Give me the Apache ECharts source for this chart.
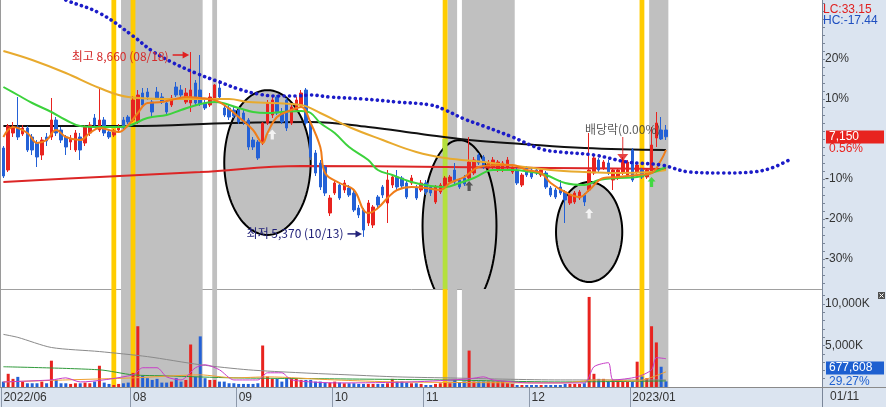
<!DOCTYPE html>
<html><head><meta charset="utf-8">
<script src="https://cdn.jsdelivr.net/npm/echarts@6.0.0/dist/echarts.min.js"></script>
<style>html,body{margin:0;padding:0;}#chart{width:886px;height:407px;}</style>
</head><body><div id="chart"></div>
<script>
// ---------- categories: trading days ----------
const days2022_06 = [23,24,27,28,29,30];
const days2022_07 = [1,4,5,6,7,8,11,12,13,14,15,18,19,20,21,22,25,26,27,28,29];
const days2022_08 = [1,2,3,4,5,8,9,10,11,12,16,17,18,19,22,23,24,25,26,29,30,31];
const days2022_09 = [1,2,5,6,7,8,13,14,15,16,19,20,21,22,23,26,27,28,29,30];
const days2022_10 = [4,5,6,7,11,12,13,14,17,18,19,20,21,24,25,26,27,28,31];
const days2022_11 = [1,2,3,4,7,8,9,10,11,14,15,16,17,18,21,22,23,24,25,28,29,30];
const days2022_12 = [1,2,5,6,7,8,9,12,13,14,15,16,19,20,21,22,23,26,27,28,29];
const days2023_01 = [2,3,4,5,6,9,10,11];
const monthList = [['2022/06',days2022_06],['2022/07',days2022_07],['2022/08',days2022_08],['2022/09',days2022_09],
  ['2022/10',days2022_10],['2022/11',days2022_11],['2022/12',days2022_12],['2023/01',days2023_01]];
const monthTickLabels = {'2022/06':'2022/06','2022/08':'08','2022/09':'09','2022/10':'10','2022/11':'11','2022/12':'12','2023/01':'2023/01'};
const futureSlots = 32;
const lastDateLabel = '01/11';

// ---------- price data, % vs previous close (7,110) ----------
const lastPrice = 7150, lastVolume = 677608, volumeRatioPct = 29.27;
const highLabel = '최고 8,660 (08/18)', lowLabel = '최저 5,370 (10/13)', exDivLabel = '배당락(0.00%)';
const lcText = 'LC:33.15', hcText = 'HC:-17.44';
const openPct = [-2.25,-7.75,1.5,3,1.25,2.75,0.5,-1,-4,0.5,
0.5,4.75,2.25,0.5,-0.75,-2.75,0.5,-1,1.5,5.25,
2.25,4.75,1.75,1,2.25,4.75,5.5,4.75,4.25,11.5,
11.75,9.25,11.75,10.5,9,8.5,13,12.25,9.25,9,
14,12.25,9,8.5,10.25,12.75,7.75,7.75,7.25,7.25,
6.5,4.75,-0.25,-0.75,-1,4,6,10.5,6.75,9.75,
4,7.25,8.5,12.25,4,-3.5,-6,-7,-18.5,-13.5,
-11.5,-12.75,-12.25,-13.5,-17.25,-17.75,-21,-21.5,-14.5,-12,
-16,-11.5,-9.5,-9.75,-11,-11,-12.25,-12.75,-11,-12,
-15.75,-13.25,-12,-10.75,-7.75,-10.25,-9.75,-9.75,-8.5,-4,
-4.5,-7.25,-7,-7.75,-7.75,-7,-8.25,-7.75,-11.5,-7.25,
-7.75,-7.75,-9,-8.5,-12.25,-12.75,-12,-13.25,-16,-15.75,
-14.75,-14,-12.75,-8.5,-5.25,-7.25,-6,-10.25,-9.75,-8.5,
-9,-2.75,-8.25,-7.75,-9.5,-8.25,0.25,2.25,2.25];
const closePct = [-9.25,3.25,3,0.5,2.75,-2.75,-2.75,-4.5,-0.25,-0.5,
4.75,1.5,-0.25,-2,0,1.5,-2.75,3,3.5,3.5,
4.75,1.5,0.5,2,3,2.75,4.25,9.75,11,8.5,
10.5,6.75,10.25,9.25,6.75,10.25,11,11,11.5,12.25,
9,8.75,7.75,10.5,13.5,10.5,6,5.5,5.75,4.25,
4.25,-2,-2,-4.75,4,9,9.75,6.5,4.25,2.75,
8,9.75,11.5,4,-4.5,-8.5,-12,-13.5,-14.75,-11,
-14.75,-11,-14,-17.75,-19,-22.75,-16,-17,-16.5,-14,
-10.25,-9.5,-12,-11.75,-14.5,-9.75,-14.75,-11,-13.25,-13.5,
-12,-11.5,-9.75,-9.5,-10.75,-12,-11.25,-5.75,-5.25,-6,
-7,-6,-5.25,-5.75,-6,-5.25,-7,-11,-9,-9,
-9.5,-8.5,-7.75,-12,-14,-14.5,-13.5,-15.25,-14,-13.5,
-13.25,-15.75,-7.75,-4.75,-7.75,-5.75,-8.5,-7.75,-7.75,-5.25,
-5.75,-10.25,-6.5,-9.5,-7.75,-1.5,4,0,0.56];
const lowPct = [-9.75,-8.25,0.5,-0.25,0.75,-3.25,-4,-7,-5.25,-1.75,
-0.25,0.75,-1,-4,-2.75,-3.25,-5.25,-1.75,0.75,2.75,
1.75,0.75,0,0.5,1.75,2.25,3.75,4.25,3.75,8,
9.75,5.5,9.75,8.75,6.25,8,10.5,10.25,8.75,6.75,
8.5,8.25,7.25,8,9.75,9.75,5.5,4.75,5.25,3.75,
3.5,-2.75,-2.75,-5.25,-1.5,3.5,5.25,6,3.75,2,
3.5,6.75,8,3.5,-5.25,-9.25,-12.75,-14.25,-19.25,-14,
-15.25,-13.5,-14.5,-18.25,-19.75,-24.47,-21.75,-22.25,-17.25,-14.75,
-21,-12.25,-12.75,-12.25,-15,-11.5,-15.25,-13.25,-14,-14.25,
-16.25,-13.75,-12.5,-11.25,-11.25,-12.5,-11.75,-10.25,-9,-6.5,
-7.5,-7.75,-7.5,-8.25,-8.25,-7.5,-8.75,-11.5,-12,-9.5,
-10,-9,-9.5,-12.5,-14.5,-15,-14,-21,-16.5,-16.25,
-15.25,-16.75,-13.25,-9,-8.25,-7.75,-9,-12.75,-10.25,-9,
-9.5,-10.75,-8.75,-10,-10,-8.75,-2,-0.25,-0.25];
const highPct = [-1.75,3.75,4.25,10.5,3.5,3.25,1.25,-0.25,0.5,1.5,
10.25,5.5,3,1,1,2.25,1.5,3.5,4.25,6.25,
12.75,5.5,2.25,2.5,3.75,5.5,6,10.75,12.25,12.75,
12.75,9.75,13,11.5,9.75,11,14.25,13.5,12.75,21.75,
14.75,21,9.75,11.5,13.75,14.75,8.5,8.5,8,8,
7.25,5.25,0.5,-0.25,4.25,9.75,10.5,11,7.75,10.25,
8.75,10.5,12.25,12.75,4.75,-2.75,-5.25,-6.5,-14,-10.25,
-11,-10.25,-11.5,-12.75,-16.5,-17.25,-15.25,-16.5,-14,-11.5,
-7.75,-9,-7.75,-9.25,-10.25,-9,-11.5,-10.25,-10.25,-11.5,
-11.5,-11,-9.25,-9,-6,-9.75,-9,0.5,-4.5,-3.5,
-4,-5.25,-4.5,-5.25,-5.5,-4.5,-6.5,-7.25,-8.5,-6.75,
-7.25,-7.25,-7.25,-8,-11.75,-12.25,-10.25,-12.75,-13.5,-13,
-12.75,-13.5,1.5,-4,-4.75,-5.25,-5.25,-7.25,-7.25,-4.5,
-5.25,-2.25,-6,-7.25,-7.25,3,6.75,5.5,3.5];
// volume in thousand shares
const volumeK = [650,1590,980,1220,650,450,450,450,650,450,
3170,850,450,450,370,450,450,530,450,650,
2560,530,370,240,370,450,530,1700,7320,1340,
1060,850,980,530,530,650,1060,650,850,5120,
1220,6100,1060,850,850,650,650,450,450,370,
370,370,370,450,5000,1260,980,980,650,980,
1060,980,850,850,850,650,650,530,530,650,
530,450,450,450,370,370,370,370,370,370,
450,980,650,650,530,450,450,370,240,240,
370,450,530,450,850,530,650,4390,650,650,
650,650,650,650,650,450,370,240,240,240,
240,240,240,240,240,240,240,370,370,370,
370,450,10850,1590,980,980,650,850,850,650,
650,650,3050,1260,1060,7320,5370,2440,678];

// ---------- indicator lines: [dayIndex, value] ----------
const ma5Pct = [[0,0.5],[2,3],[5,1.5],[7,-1],[9,-0.25],[11,2.25],[13,0.5],[16,-0.25],[18,1.5],[20,2.75],[22,2.25],[24,1.75],[26,3.5],[28,6.5],[30,9],[33,9.25],[35,9.75],[38,10.5],[41,10.25],[44,9.75],[46,8.5],[49,5.5],[52,2.25],[54,-1],[55,1.5],[57,5.5],[60,7.25],[62,8],[64,4],[66,-2],[67,-8.5],[70,-11],[73,-12.75],[75,-17.75],[76,-18.5],[78,-17.25],[80,-14.75],[82,-12.75],[85,-12],[88,-12.25],[91,-12.75],[93,-11],[96,-9.5],[99,-7],[103,-6.5],[106,-6.5],[109,-7.75],[112,-8.5],[114,-11],[117,-13.25],[120,-14.5],[122,-12.75],[125,-9.75],[128,-9.5],[132,-9],[135,-8.5],[137,-5.25],[138,-2.75]];
const ma20Pct = [[0,13],[3,11],[6,9],[10,6.75],[13,4.75],[16,3.25],[20,3],[24,3],[26,3.25],[30,5.25],[34,6],[37,7.25],[41,8.75],[44,9.25],[49,7.75],[52,6.75],[55,6.5],[58,6.75],[62,7],[64,6.5],[66,4],[69,1.5],[72,-2],[76,-5.25],[78,-7.75],[81,-9],[85,-10.75],[89,-11.75],[92,-12],[95,-11],[98,-9.75],[102,-7.75],[106,-7.75],[110,-8.25],[113,-9],[117,-11],[121,-11.5],[124,-10.25],[128,-9.75],[132,-9.5],[135,-8.5],[138,-7]];
const ma60Pct = [[0,22],[6,19.75],[13,16.5],[20,12.75],[26,10.5],[34,10],[41,10],[47,10],[51,9.25],[62,8.5],[66,6.5],[72,3],[79,-0.25],[86,-3.25],[92,-4.75],[100,-5.75],[107,-6.75],[114,-7.75],[121,-8.25],[128,-8.5],[135,-8.25],[138,-7.75]];
const longRedPct = [[0,-10.75],[20,-9.5],[41,-8.25],[62,-6.75],[92,-7],[114,-7.25],[138,-7.5]];
const longBlackPct = [[0,3.25],[26,3.25],[48,4],[64,4.25],[76,3],[87,1.25],[97,-0.25],[108,-1.25],[121,-2.25],[138,-2.75]];
const leadSpanPct = [[10,36.75],[13,34.75],[20,31.5],[27,25.75],[31,22],[35,19.25],[40,16.5],[45,14.25],[49,12.5],[53,11.25],[57,10.75],[61,10.75],[64,11],[68,10.5],[75,10],[82,9.25],[89,8.5],[92,7.25],[96,5],[100,3.25],[106,0.5],[112,-2.5],[116,-3.25],[123,-4],[130,-5.75],[137,-6.5],[143,-8.25],[150,-8.5],[156,-8.25],[160,-7.25],[164,-5]];
const volMaGray = [[0,6340],[3,5980],[10,4760],[20,4270],[30,3660],[41,2680],[51,2070],[62,1710],[72,1460],[82,1220],[92,1100],[116,850],[138,850]];
const volMaGreen = [[0,2440],[20,2070],[27,1460],[34,1340],[48,1100],[69,980],[92,850],[116,610],[138,730]];
const volMaOrange = [[0,610],[13,850],[27,1100],[41,1460],[48,1100],[55,1220],[69,850],[82,610],[116,490],[124,850],[132,730],[138,1830]];
const volMaMagenta = [[0,610],[10,850],[13,1100],[16,610],[27,1460],[29,2320],[32,2320],[34,1220],[37,850],[40,2320],[42,2680],[45,2070],[48,850],[53,850],[55,1710],[58,1710],[60,850],[70,490],[85,610],[97,980],[100,1220],[102,850],[110,490],[121,490],[123,2440],[126,2930],[127,850],[132,1220],[135,2070],[136,3540],[138,3410]];

// ---------- signals / annotations in data coordinates ----------
const grayZones = [[25,41],[44,44],[93,94],[96,106],[135,138]];
const yellowSignals = [[23,23],[27,27],[92,92],[133,133]];
const limeSignal = [[92,0]];          // [dayIndex, top of the lime part in %]
const ellipseMarks = [[55,-5.9,9,18.1],[95,-21.75,7.7,21.5],[122,-23.25,6.9,12.5]]; // [centerIdx, centerPct, halfWidthDays, halfHeightPct]
const whiteUp = [[56,1.1],[122,-18.6]];
const darkUp = [[97,-11.75]];
const greenUp = [[135,-10.75]];
const exDividend = [[129,-2.5]];
const pctTickLabels = [20,10,-10,-20,-30];
const volTickLabels = [5000,10000];

// ---------- build ----------
const RED='#e8231f', BLUE='#2461d6', GRAY='#c0c0c0', YELLOW='#ffcc00', LIME='#b4e03c';
const cats=[], monthLabelAt={};
monthList.forEach(([m,days])=>{ if(monthTickLabels[m]) monthLabelAt[cats.length]=monthTickLabels[m]; days.forEach(d=>cats.push(m+'/'+String(d).padStart(2,'0'))); });
for(let k=1;k<=futureSlots;k++) cats.push('+'+k);
const N=openPct.length;
const ohlc = openPct.map((o,i)=>[o, closePct[i], lowPct[i], highPct[i]]);
const volData = volumeK.map((v,i)=>({value:v,itemStyle:{color: closePct[i]>=openPct[i]?RED:BLUE}}));
const pctTicks=[]; for(let v=-36;v<=34;v+=2) pctTicks.push(v);
const volTicks=[]; for(let v=1000;v<=11000;v+=1000) volTicks.push(v);
const UP='path://M4,0 L8,4.5 L5.6,4.5 L5.6,10 L2.4,10 L2.4,4.5 L0,4.5 Z';
const DOWN='path://M4.6,0 L5.6,0 L5.6,17 L10.2,17 L5.1,24 L0,17 L4.6,17 Z';
const FONT='"Liberation Sans", Arial, sans-serif';
const KFONT='"Noto Sans CJK KR", sans-serif';
const AXC='#7a8699';

function zoneSeries(data,color,xi,yi,z){
  return {type:'custom',xAxisIndex:xi,yAxisIndex:yi,data,silent:true,z,encode:{x:[0,1]},
    renderItem:(params,api)=>{
      const bw=api.size([1,0])[0];
      const x0=api.coord([api.value(0),0])[0]-bw/2;
      const x1=api.coord([api.value(1),0])[0]+bw/2;
      const r=params.coordSys;
      return {type:'rect',shape:{x:x0,y:r.y,width:x1-x0,height:r.height},style:{fill:color}};
    }};
}
function limeSeries(data){
  return {type:'custom',xAxisIndex:0,yAxisIndex:0,data,silent:true,z:3,
    renderItem:(params,api)=>{
      const bw=api.size([1,0])[0];
      const p=api.coord([api.value(0),api.value(1)]);
      const r=params.coordSys;
      return {type:'rect',shape:{x:p[0]-bw/2,y:p[1],width:bw,height:r.y+r.height-p[1]},style:{fill:LIME}};
    }};
}
function lineS(data,color,width,z,extra){return Object.assign({type:'line',xAxisIndex:0,yAxisIndex:0,data,symbol:'none',smooth:0.4,silent:true,z,lineStyle:{color,width}},extra||{});}
function vLine(data,color){return {type:'line',xAxisIndex:1,yAxisIndex:2,data,symbol:'none',smooth:0.25,silent:true,z:4,lineStyle:{color,width:1}};}

const chart = echarts.init(document.getElementById('chart'), null, {renderer:'canvas'});
const option = {
  animation:false, backgroundColor:'#dbe4f0',
  grid:[{left:1,right:64,top:0,height:289,show:true,backgroundColor:'#fff',borderWidth:0},
        {left:1,right:64,top:289,height:98,show:true,backgroundColor:'#fff',borderWidth:0}],
  xAxis:[
    {type:'category',gridIndex:0,data:cats,boundaryGap:true,axisLine:{show:true,onZero:false,lineStyle:{color:'#a0a0a0'}},axisTick:{show:false},axisLabel:{show:false},splitLine:{show:false}},
    {type:'category',gridIndex:1,data:cats,boundaryGap:true,axisLine:{show:true,onZero:false,lineStyle:{color:'#808080'}},
      axisTick:{show:true,length:20,interval:(i)=>monthLabelAt[i]!==undefined,lineStyle:{color:'#8c98aa'}},
      axisLabel:{interval:(i)=>monthLabelAt[i]!==undefined,formatter:(v,i)=>monthLabelAt[i]||'',align:'left',margin:5,color:'#333',fontSize:12,fontFamily:FONT},splitLine:{show:false}},
    {type:'category',gridIndex:1,data:cats,boundaryGap:true,show:false}
  ],
  yAxis:[
    {type:'value',gridIndex:0,position:'right',min:-37.5,max:34.75,splitLine:{show:false},
      axisLine:{show:true,lineStyle:{color:AXC}},
      axisTick:{show:true,length:3,customValues:pctTicks,lineStyle:{color:AXC}},
      axisLabel:{customValues:pctTickLabels,formatter:v=>v+'%',color:'#333',fontSize:12,fontFamily:FONT,margin:3}},
    {type:'value',gridIndex:0,position:'left',min:0,max:1,show:false},
    {type:'value',gridIndex:1,position:'right',min:0,max:11807,splitLine:{show:false},
      axisLine:{show:true,lineStyle:{color:AXC}},
      axisTick:{show:true,length:3,customValues:volTicks,lineStyle:{color:AXC}},
      axisLabel:{customValues:volTickLabels,formatter:v=>v.toLocaleString('en-US')+'K',color:'#333',fontSize:12,fontFamily:FONT,margin:3}},
    {type:'value',gridIndex:1,position:'left',min:0,max:1,show:false}
  ],
  series:[
    zoneSeries(grayZones,GRAY,0,1,1),
    zoneSeries(yellowSignals,YELLOW,0,1,1),
    limeSeries(limeSignal),
    {type:'custom',xAxisIndex:0,yAxisIndex:0,clip:true,silent:true,z:2,data:ellipseMarks,
      renderItem:(params,api)=>{
        const c=api.coord([api.value(0),api.value(1)]);
        const sz=api.size([1,api.value(3)]);
        const rx=sz[0]*api.value(2), ry=sz[1];
        const pts=[]; for(let k=0;k<96;k++){const a=k/96*Math.PI*2; pts.push([c[0]+rx*Math.cos(a),c[1]+ry*Math.sin(a)]);}
        return {type:'polygon',shape:{points:pts},style:{fill:GRAY,stroke:'#000',lineWidth:2}};
      }},
    lineS(longRedPct,'#dc2626',2,3),
    lineS(longBlackPct,'#111',2,3),
    {type:'candlestick',xAxisIndex:0,yAxisIndex:0,data:ohlc,barWidth:3,silent:true,z:4,
      itemStyle:{color:RED,color0:BLUE,borderColor:RED,borderColor0:BLUE,borderWidth:1}},
    lineS(ma60Pct,'#e8aa2e',2,5),
    lineS(ma20Pct,'#3cd23c',2,5),
    lineS(ma5Pct,'#f07d19',2,5),
    lineS(leadSpanPct,'#1c1cc8',3.6,6,{lineStyle:{color:'#1c1cc8',width:3.6,type:[0.1,5.4],cap:'round'}}),
    {type:'scatter',xAxisIndex:0,yAxisIndex:0,data:whiteUp,symbol:UP,symbolSize:[8,10],itemStyle:{color:'#fff'},silent:true,z:7},
    {type:'scatter',xAxisIndex:0,yAxisIndex:0,data:darkUp,symbol:UP,symbolSize:[8,10],itemStyle:{color:'#3c3c3c'},silent:true,z:7},
    {type:'scatter',xAxisIndex:0,yAxisIndex:0,data:greenUp,symbol:UP,symbolSize:[8,10],itemStyle:{color:'#22dd22'},silent:true,z:7},
    {type:'scatter',xAxisIndex:0,yAxisIndex:0,data:exDividend,symbol:DOWN,symbolSize:[11,24],itemStyle:{color:'#e01515'},silent:true,z:7,
      label:{show:true,position:'top',distance:1,formatter:exDivLabel,color:'#333',fontSize:12,lineHeight:13,fontFamily:KFONT}},
    zoneSeries(grayZones,GRAY,2,3,1),
    zoneSeries(yellowSignals,YELLOW,2,3,1),
    {type:'bar',xAxisIndex:1,yAxisIndex:2,data:volData,barWidth:3,silent:true,z:3},
    vLine(volMaGray,'#8a8a8a'),
    vLine(volMaGreen,'#2f9a3a'),
    vLine(volMaOrange,'#f0a030'),
    vLine(volMaMagenta,'#c83cc8')
  ]
};
chart.setOption(option);

// ---------- annotations placed through the chart's own scales ----------
const P = (i,v)=>chart.convertToPixel({xAxisIndex:0,yAxisIndex:0},[i,v]);
const hiIdx = highPct.indexOf(Math.max(...highPct));
const loIdx = lowPct.indexOf(Math.min(...lowPct));
const hp = P(hiIdx, highPct[hiIdx]);
const lp = P(loIdx, lowPct[loIdx]);
const cp = P(N-1, closePct[N-1]);
const vp = chart.convertToPixel({xAxisIndex:1,yAxisIndex:2},[N-1, volumeK[N-1]]);
const lm = P(limeSignal[0][0], limeSignal[0][1]);
const bwPx = P(1,0)[0]-P(0,0)[0];
const g = [];
g.push({type:'rect',z:1,shape:{x:lm[0]-bwPx/2,y:lm[1],width:bwPx,height:289-lm[1]},style:{fill:LIME}});
g.push({type:'text',z:50,style:{text:highLabel,x:hp[0]-22,y:hp[1]+4,align:'right',verticalAlign:'middle',fill:'#d42a2a',font:'12px '+KFONT}});
g.push({type:'line',z:50,shape:{x1:hp[0]-18,y1:hp[1]+3,x2:hp[0]-6,y2:hp[1]+3},style:{stroke:'#e02020',lineWidth:1.5}});
g.push({type:'polygon',z:50,shape:{points:[[hp[0]-8,hp[1]-0.5],[hp[0]-1.5,hp[1]+3],[hp[0]-8,hp[1]+6.5]]},style:{fill:'#e02020'}});
g.push({type:'text',z:50,style:{text:lowLabel,x:lp[0]-20,y:lp[1]-3,align:'right',verticalAlign:'middle',fill:'#23237a',font:'12px '+KFONT}});
g.push({type:'line',z:50,shape:{x1:lp[0]-16,y1:lp[1]-3,x2:lp[0]-6,y2:lp[1]-3},style:{stroke:'#23237a',lineWidth:1.5}});
g.push({type:'polygon',z:50,shape:{points:[[lp[0]-8,lp[1]-6.5],[lp[0]-1.5,lp[1]-3],[lp[0]-8,lp[1]+0.5]]},style:{fill:'#23237a'}});
g.push({type:'line',z:40,shape:{x1:822.5,y1:0,x2:822.5,y2:407},style:{stroke:AXC,lineWidth:1}});
g.push({type:'line',z:40,shape:{x1:0,y1:387.5,x2:886,y2:387.5},style:{stroke:'#8a8a8a',lineWidth:1}});
g.push({type:'line',z:40,shape:{x1:0.5,y1:0,x2:0.5,y2:387},style:{stroke:'#9a9a9a',lineWidth:1}});
g.push({type:'text',z:50,style:{text:lcText,x:823,y:10,verticalAlign:'middle',fill:'#e02020',font:'12px '+FONT}});
g.push({type:'text',z:50,style:{text:hcText,x:823,y:21,verticalAlign:'middle',fill:'#1f4fc0',font:'12px '+FONT}});
g.push({type:'rect',z:50,shape:{x:826,y:Math.round(cp[1])-6.5,width:58,height:13},style:{fill:'#e8231f'}});
g.push({type:'text',z:51,style:{text:lastPrice.toLocaleString('en-US'),x:829,y:Math.round(cp[1]),verticalAlign:'middle',fill:'#fff',font:'12px '+FONT}});
g.push({type:'text',z:51,style:{text:closePct[N-1].toFixed(2)+'%',x:829,y:Math.round(cp[1])+12,verticalAlign:'middle',fill:'#e8231f',font:'12px '+FONT}});
g.push({type:'rect',z:50,shape:{x:826,y:Math.round(vp[1])-19.5,width:58,height:13},style:{fill:'#1d5fd0'}});
g.push({type:'text',z:51,style:{text:lastVolume.toLocaleString('en-US'),x:829,y:Math.round(vp[1])-13,verticalAlign:'middle',fill:'#fff',font:'12px '+FONT}});
g.push({type:'text',z:51,style:{text:volumeRatioPct.toFixed(2)+'%',x:829,y:Math.round(vp[1])+1,verticalAlign:'middle',fill:'#1d5fd0',font:'12px '+FONT}});
g.push({type:'text',z:50,style:{text:lastDateLabel,x:830,y:397,verticalAlign:'middle',fill:'#333',font:'12px '+FONT}});
g.push({type:'rect',z:50,shape:{x:878,y:292,width:7,height:7},style:{fill:'#505050'}});
g.push({type:'line',z:51,shape:{x1:879.5,y1:293.5,x2:883.5,y2:297.5},style:{stroke:'#fff',lineWidth:1}});
g.push({type:'line',z:51,shape:{x1:883.5,y1:293.5,x2:879.5,y2:297.5},style:{stroke:'#fff',lineWidth:1}});
chart.setOption({graphic:g});
</script></body></html>
